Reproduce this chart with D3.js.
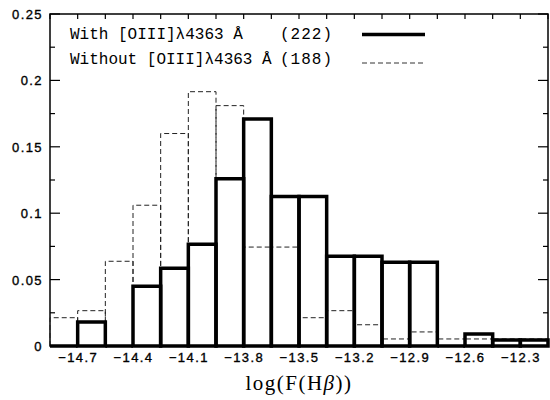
<!DOCTYPE html>
<html>
<head>
<meta charset="utf-8">
<script src="https://cdnjs.cloudflare.com/ajax/libs/d3/7.8.5/d3.min.js"></script>
<style>
  body { margin: 0; background: #fff; }
  .tick text { font-family: "Liberation Sans", Arial, sans-serif; font-size: 13px; letter-spacing: 1.4px; fill: #000; stroke: #000; stroke-width: 0.35px; }
  .legend { font-family: "Liberation Mono", "Courier New", monospace; font-size: 16px; fill: #000; }
  .xlabel { font-family: "Liberation Serif", "Times New Roman", serif; font-size: 21px; letter-spacing: 1.5px; fill: #000; }
</style>
</head>
<body>
<div id="chart"></div>
<script>
// bin lower edges, log(F(Hbeta)), bin width 0.15
var binLo = [-14.85, -14.7, -14.55, -14.4, -14.25, -14.1, -13.95, -13.8, -13.65,
             -13.5, -13.35, -13.2, -13.05, -12.9, -12.75, -12.6, -12.45, -12.3];
var binWidth = 0.15;

// fraction of objects per bin
var withOIII    = [0, 0.018, 0, 0.045, 0.0586, 0.0766, 0.126, 0.171, 0.1126,
                   0.1126, 0.0676, 0.0676, 0.063, 0.063, 0, 0.009, 0.0045, 0.0045];
var withoutOIII = [0.0213, 0.0266, 0.0638, 0.106, 0.16, 0.1915, 0.181, 0.0745, 0.0745,
                   0.0213, 0.0266, 0.016, 0.0053, 0.0106, 0.0053, 0.0053, 0.0053, 0.0053];

var xTicks = [-14.7, -14.4, -14.1, -13.8, -13.5, -13.2, -12.9, -12.6, -12.3];
var yTicks = [0, 0.05, 0.1, 0.15, 0.2, 0.25];

var seriesNames = ["With [OIII]\u03bb4363 \u00c5", "Without [OIII]\u03bb4363 \u00c5"];
var seriesCounts = ["(222)", "(188)"];

var width = 550, height = 400;
var margin = {top: 14, right: 2, bottom: 54, left: 50};

var svg = d3.select("#chart").append("svg")
    .attr("width", width)
    .attr("height", height);

var x = d3.scaleLinear()
    .domain([-14.85, -12.15])
    .range([margin.left, width - margin.right]);

var y = d3.scaleLinear()
    .domain([0, 0.25])
    .range([height - margin.bottom, margin.top]);

var minorX = d3.range(0, 19).map(function(i) { return -14.85 + i * 0.15; });
var minorY = d3.range(0, 11).map(function(i) { return i * 0.025; });

// frame
svg.append("rect")
    .attr("x", x.range()[0])
    .attr("y", y.range()[1])
    .attr("width", x.range()[1] - x.range()[0])
    .attr("height", y.range()[0] - y.range()[1])
    .attr("fill", "none")
    .attr("stroke", "#000")
    .attr("stroke-width", 1.5);

// minor ticks (inward)
var ticks = svg.append("g").attr("stroke", "#000").attr("stroke-width", 1.2);
minorY.forEach(function(v) {
    var len = (Math.round(v * 1000) % 50 === 0) ? 10 : 5;
    ticks.append("line").attr("x1", x.range()[0]).attr("x2", x.range()[0] + len)
        .attr("y1", y(v)).attr("y2", y(v));
    ticks.append("line").attr("x1", x.range()[1]).attr("x2", x.range()[1] - len)
        .attr("y1", y(v)).attr("y2", y(v));
});
minorX.forEach(function(v) {
    ticks.append("line").attr("x1", x(v)).attr("x2", x(v))
        .attr("y1", y.range()[1]).attr("y2", y.range()[1] + 5);
});

// axes labels
var xAxis = svg.append("g")
    .attr("transform", "translate(0," + y(0) + ")")
    .call(d3.axisBottom(x).tickValues(xTicks).tickSize(0).tickPadding(7).tickFormat(d3.format(".1f")));
xAxis.select(".domain").remove();

var yAxis = svg.append("g")
    .attr("transform", "translate(" + x.range()[0] + ",0)")
    .call(d3.axisLeft(y).tickValues(yTicks).tickSize(0).tickPadding(7)
        .tickFormat(function(d) { return d === 0 ? "0" : d3.format("")(+d.toFixed(2)); }));
yAxis.select(".domain").remove();
yAxis.selectAll("text").attr("dy", "0.35em");

function barPath(lo, v) {
    var x0 = x(lo), x1 = x(lo + binWidth), y0 = y(0), y1 = y(v);
    return "M" + x0 + "," + y0 + "V" + y1 + "H" + x1 + "V" + y0 + "Z";
}

// dashed histogram (without)
svg.append("g").selectAll("path")
    .data(withoutOIII)
    .enter().append("path")
    .attr("d", function(d, i) { return barPath(binLo[i], d); })
    .attr("fill", "none")
    .attr("stroke", "#222")
    .attr("stroke-width", 1)
    .attr("stroke-dasharray", "5,3");

// solid histogram (with)
svg.append("g").selectAll("path")
    .data(withOIII)
    .enter().append("path")
    .attr("d", function(d, i) { return barPath(binLo[i], d); })
    .attr("fill", "none")
    .attr("stroke", "#000")
    .attr("stroke-width", 3.5)
    .attr("stroke-linejoin", "miter");

// legend
var legY = [39, 64];
var lineY = [34.5, 63];
seriesNames.forEach(function(name, i) {
    svg.append("text").attr("class", "legend")
        .attr("x", 70).attr("y", legY[i]).text(name);
    svg.append("text").attr("class", "legend")
        .attr("x", 280).attr("y", legY[i])
        .style("letter-spacing", "1px").text(seriesCounts[i]);
    svg.append("line")
        .attr("x1", 362).attr("x2", 425)
        .attr("y1", lineY[i]).attr("y2", lineY[i])
        .attr("stroke", i === 0 ? "#000" : "#333")
        .attr("stroke-width", i === 0 ? 3.5 : 1)
        .attr("stroke-dasharray", i === 0 ? null : "5,3");
});

// x label
var xl = svg.append("text").attr("class", "xlabel")
    .attr("x", 299).attr("y", 390)
    .attr("text-anchor", "middle");
xl.append("tspan").text("log(F(H");
xl.append("tspan").style("font-style", "italic").text("\u03b2");
xl.append("tspan").text("))");
</script>
</body>
</html>
